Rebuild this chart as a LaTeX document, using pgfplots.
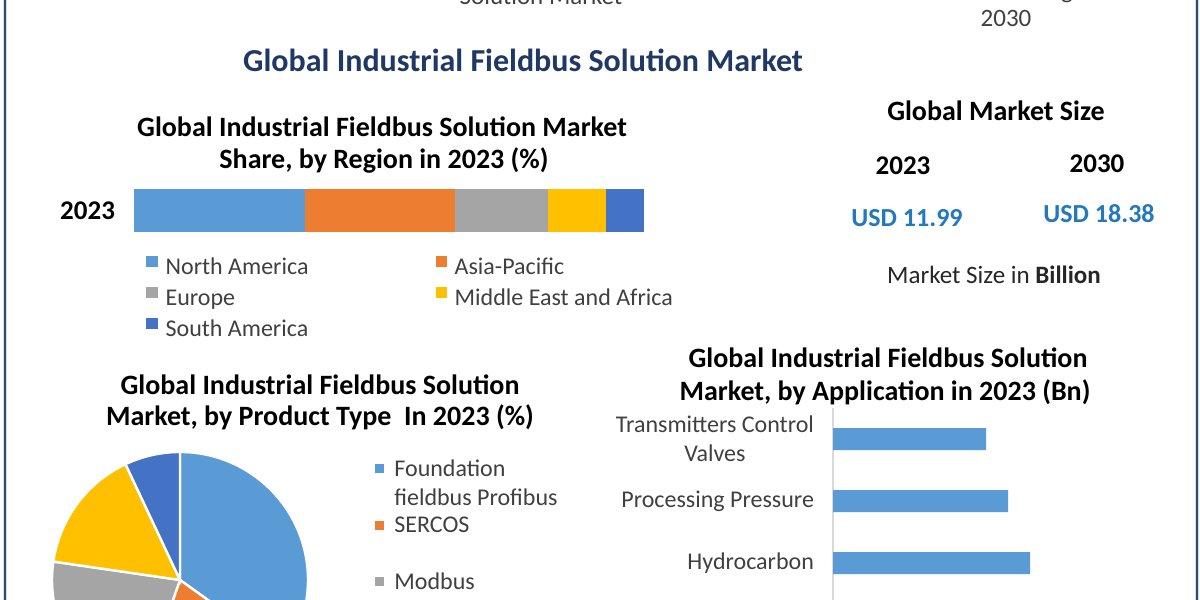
\documentclass[border=0pt]{standalone}
\usepackage{fontspec}
\setmainfont{Carlito}
\usepackage{pgfplots}
\pgfplotsset{compat=1.18}
\usepackage{pgfplotstable}

\definecolor{cNA}{HTML}{5B9BD5}
\definecolor{cAP}{HTML}{ED7D31}
\definecolor{cEU}{HTML}{A5A5A5}
\definecolor{cME}{HTML}{FFC000}
\definecolor{cSA}{HTML}{4472C4}
\definecolor{navy}{HTML}{1F3864}
\definecolor{usd}{HTML}{2478BE}
\definecolor{txt}{HTML}{404040}
\definecolor{frame}{HTML}{2E4A6A}
\definecolor{framehalo}{HTML}{CFE2F0}

% Market share by region, 2023 (%)
\pgfplotstableread{
year NA AP EU ME SA
0 33.6 29.3 18.3 11.4 7.4
}\regiontable

% Market by application, 2023 (Bn)
\pgfplotstableread{
idx value
0 1.53
1 1.75
2 1.97
}\apptable

% Market share by product type, 2023 (%)
\def\pFound{34.9}
\def\pSercos{20.5}
\def\pModbus{21.9}
\def\pSliceD{15.7}
\def\pSliceE{7.0}

\begin{document}
\begin{tikzpicture}
\useasboundingbox (0pt,0pt) rectangle (600pt,300pt);
\clip (0pt,0pt) rectangle (600pt,300pt);
\fill[white] (0pt,0pt) rectangle (600pt,300pt);

% slice boundaries, clockwise from twelve o'clock
\pgfmathsetmacro\aA{90-3.6*\pFound}
\pgfmathsetmacro\aB{\aA-3.6*\pSercos}
\pgfmathsetmacro\aC{\aB-3.6*\pModbus}
\pgfmathsetmacro\aD{\aC-3.6*\pSliceD}
\pgfmathsetmacro\aE{\aD-3.6*\pSliceE}

% side frame
\foreach \xx in {2.5pt,598.5pt}{
  \draw[line width=2.4pt, color=framehalo] (\xx,0pt) -- (\xx,300pt);
  \draw[line width=1.3pt, color=frame] (\xx,0pt) -- (\xx,300pt);
}

% header remnants
\node[anchor=base, font=\fontsize{12.5}{15}\selectfont, text=txt] at (270.5pt,297.5pt) {Solution Market};
\node[anchor=base, font=\fontsize{12.5}{15}\selectfont, text=txt] at (500pt,300.5pt) {CAGR of 6.3\% during 2024-};
\node[anchor=base, font=\fontsize{12.5}{15}\selectfont, text=txt] at (503pt,286.5pt) {2030};

% main title
\node[font=\bfseries\fontsize{16}{19}\selectfont, text=navy] at (261.5pt,270pt) {Global Industrial Fieldbus Solution Market};

% ---------- region share ----------
\node[font=\bfseries\fontsize{14}{17}\selectfont] at (191pt,236.5pt) {Global Industrial Fieldbus Solution Market};
\node[font=\bfseries\fontsize{14}{17}\selectfont] at (192pt,220pt) {Share, by Region in 2023 (\%)};

\begin{axis}[xbar stacked, scale only axis,
  at={(67pt,184pt)}, anchor=south west,
  width=255pt, height=21.5pt,
  xmin=0, xmax=100, ymin=-0.5, ymax=0.5,
  bar width=21.5pt,
  axis line style={draw=none}, tick style={draw=none},
  major tick length=0,
  xtick=\empty, ytick={0}, yticklabels={2023},
  yticklabel style={font=\bfseries\fontsize{13.5}{16}\selectfont, text=black, xshift=-6pt},
  legend columns=2, legend cell align=left,
  legend image code/.code={\fill[#1] (0pt,0.4pt) rectangle (5.6pt,6pt);},
  legend style={draw=none, fill=none, at={(0,0)}, anchor=north west,
    xshift=6pt, yshift=-11pt, inner sep=0pt,
    font=\fontsize{12}{14}\selectfont, text=txt,
    nodes={inner sep=1pt, text height=9pt, text depth=2.5pt},
    row sep=2pt,
    /tikz/every odd column/.append style={column sep=3pt},
    /tikz/every even column/.append style={column sep=62.5pt}},
]
\addplot[fill=cNA, draw=none] table[x=NA, y=year] {\regiontable};
\addlegendentry{North America}
\addplot[fill=cAP, draw=none] table[x=AP, y=year] {\regiontable};
\addlegendentry{Asia-Pacific}
\addplot[fill=cEU, draw=none] table[x=EU, y=year] {\regiontable};
\addlegendentry{Europe}
\addplot[fill=cME, draw=none] table[x=ME, y=year] {\regiontable};
\addlegendentry{Middle East and Africa}
\addplot[fill=cSA, draw=none] table[x=SA, y=year] {\regiontable};
\addlegendentry{South America}
\end{axis}

% ---------- global market size ----------
\node[font=\bfseries\fontsize{14}{17}\selectfont] at (498pt,244.5pt) {Global Market Size};
\node[font=\bfseries\fontsize{13.5}{16}\selectfont] at (451.5pt,217pt) {2023};
\node[font=\bfseries\fontsize{13.5}{16}\selectfont] at (548.5pt,218pt) {2030};
\node[font=\bfseries\fontsize{13}{16}\selectfont, text=usd] at (453.5pt,191pt) {USD 11.99};
\node[font=\bfseries\fontsize{13}{16}\selectfont, text=usd] at (549.5pt,193pt) {USD 18.38};
\node[font=\fontsize{12.5}{15}\selectfont, text=black!85] at (497pt,162.5pt) {Market Size in \textbf{Billion}};

% ---------- product type pie ----------
\node[font=\bfseries\fontsize{14}{17}\selectfont] at (160pt,107.5pt) {Global Industrial Fieldbus Solution};
\node[font=\bfseries\fontsize{14}{17}\selectfont] at (160pt,91.5pt) {Market, by Product Type\ \ In 2023 (\%)};

\begin{axis}[hide axis, scale only axis, clip=false,
  width=128pt, height=128pt,
  xmin=-1, xmax=1, ymin=-1, ymax=1,
  at={(90pt,10pt)}, anchor=center]
\fill[cNA, draw=white, line width=1.2pt] (axis cs:0,0) -- ++(90:64pt) arc[start angle=90, end angle=\aA, radius=64pt] -- cycle;
\fill[cAP, draw=white, line width=1.2pt] (axis cs:0,0) -- ++(\aA:64pt) arc[start angle=\aA, end angle=\aB, radius=64pt] -- cycle;
\fill[cEU, draw=white, line width=1.2pt] (axis cs:0,0) -- ++(\aB:64pt) arc[start angle=\aB, end angle=\aC, radius=64pt] -- cycle;
\fill[cME, draw=white, line width=1.2pt] (axis cs:0,0) -- ++(\aC:64pt) arc[start angle=\aC, end angle=\aD, radius=64pt] -- cycle;
\fill[cSA, draw=white, line width=1.2pt] (axis cs:0,0) -- ++(\aD:64pt) arc[start angle=\aD, end angle=\aE, radius=64pt] -- cycle;
\end{axis}

% pie legend
\fill[cNA] (187.5pt,63.5pt) rectangle (192pt,68pt);
\node[anchor=west, inner sep=0pt, font=\fontsize{12}{14}\selectfont, text=txt] at (197pt,66pt) {Foundation};
\node[anchor=west, inner sep=0pt, font=\fontsize{12}{14}\selectfont, text=txt] at (197pt,51.5pt) {fieldbus Profibus};
\fill[cAP] (187.5pt,35pt) rectangle (192pt,39.5pt);
\node[anchor=west, inner sep=0pt, font=\fontsize{12}{14}\selectfont, text=txt] at (197pt,37.5pt) {SERCOS};
\fill[cEU] (187.5pt,7pt) rectangle (192pt,11.5pt);
\node[anchor=west, inner sep=0pt, font=\fontsize{12}{14}\selectfont, text=txt] at (197pt,9.5pt) {Modbus};

% ---------- application bars ----------
\node[font=\bfseries\fontsize{14}{17}\selectfont] at (444pt,121pt) {Global Industrial Fieldbus Solution};
\node[font=\bfseries\fontsize{14}{17}\selectfont] at (442.5pt,104pt) {Market, by Application in 2023 (Bn)};

\begin{axis}[xbar, scale only axis, clip=false,
  at={(416.5pt,96pt)}, anchor=north west,
  x=50pt, y=31pt, y dir=reverse,
  xmin=0, xmax=3.5, ymin=-0.5, ymax=3.5,
  bar width=11pt,
  axis x line=none, axis y line*=left,
  y axis line style={draw=black!15, line width=0.8pt},
  major tick length=0,
  ytick={0,1,2},
  yticklabels={{Transmitters Control\\Valves},{Processing Pressure},{Hydrocarbon}},
  yticklabel style={align=center, font=\fontsize{12}{14.5}\selectfont, text=txt, xshift=-6pt},
]
\addplot[fill=cNA, draw=none] table[x=value, y=idx] {\apptable};
\end{axis}

\end{tikzpicture}
\end{document}
